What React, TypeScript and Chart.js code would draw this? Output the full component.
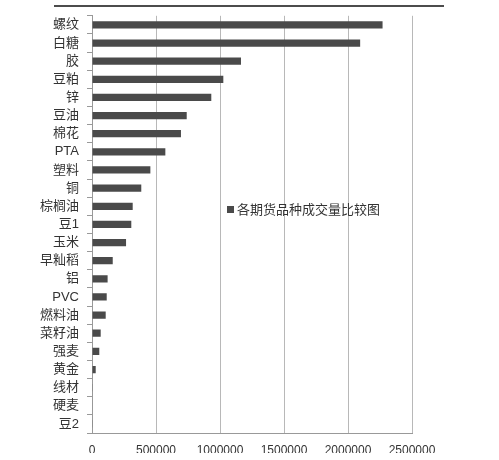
import React, { useEffect, useRef } from "react";
import { Chart, registerables } from "chart.js";

Chart.register(...registerables);

const categories = [
  "螺纹", "白糖", "胶", "豆粕", "锌", "豆油", "棉花", "PTA", "塑料", "铜", "棕榈油", "豆1",
  "玉米", "早籼稻", "铝", "PVC", "燃料油", "菜籽油", "强麦", "黄金", "线材", "硬麦", "豆2",
];

const volumes = [
  2270000, 2095000, 1164000, 1026000, 932000, 740000, 695000, 573000, 456000, 385000, 318000, 307000,
  266000, 162000, 122000, 115000, 107000, 68000, 57000, 29000, 5000, 4000, 3000,
];

const seriesLabel = "各期货品种成交量比较图";
const xTicks = [0, 500000, 1000000, 1500000, 2000000, 2500000];

const FONT = "'Liberation Sans', 'Noto Sans CJK SC', sans-serif";

// legend sits inside the plot area, plus the stray rule at the top
const overlay = {
  id: "overlay",
  afterDraw(chart: any) {
    const { ctx, chartArea } = chart;
    ctx.save();
    ctx.strokeStyle = "#111";
    ctx.lineWidth = 1.5;
    ctx.beginPath();
    ctx.moveTo(54, 6);
    ctx.lineTo(444, 6);
    ctx.stroke();

    const lx = chartArea.left + 135;
    const ly = 210;
    ctx.fillStyle = "#4a4a4a";
    ctx.fillRect(lx, ly - 4, 7, 7);
    ctx.fillStyle = "#333";
    ctx.font = `13px ${FONT}`;
    ctx.textBaseline = "middle";
    ctx.fillText(chart.data.datasets[0].label, lx + 10, ly);
    ctx.restore();
  },
};

const App: React.FC = () => {
  const chartRef = useRef<HTMLCanvasElement | null>(null);
  const chartInstance = useRef<Chart<"bar"> | null>(null);

  useEffect(() => {
    if (!chartRef.current) return;
    if (chartInstance.current) chartInstance.current.destroy();

    chartInstance.current = new Chart(chartRef.current, {
      type: "bar",
      data: {
        labels: categories,
        datasets: [
          {
            label: seriesLabel,
            data: volumes,
            backgroundColor: "#4a4a4a",
            barPercentage: 0.4,
            categoryPercentage: 1,
          },
        ],
      },
      options: {
        indexAxis: "y",
        responsive: false,
        animation: false,
        layout: { padding: { top: 8, right: 87, bottom: 7, left: 0 } },
        plugins: {
          legend: { display: false },
          tooltip: { enabled: false },
        },
        scales: {
          x: {
            min: 0,
            max: 2500000,
            afterBuildTicks: (s: any) => {
              s.ticks = xTicks.map((v) => ({ value: v }));
            },
            afterFit: (s: any) => {
              s.height = 20;
            },
            grid: { color: "#b8b8b8", tickLength: 0, lineWidth: 1 },
            border: { color: "#999" },
            ticks: {
              color: "#333",
              font: { family: FONT, size: 12 },
              padding: 10,
              maxRotation: 0,
              callback: (v: any) => String(v),
            },
          },
          y: {
            afterFit: (s: any) => {
              s.width = 92;
            },
            grid: {
              offset: true,
              drawOnChartArea: false,
              tickLength: 5,
              color: "#999",
            },
            border: { color: "#999" },
            ticks: {
              color: "#333",
              font: { family: FONT, size: 13 },
              padding: 8,
              autoSkip: false,
            },
          },
        },
      },
      plugins: [overlay],
    });

    return () => {
      if (chartInstance.current) {
        chartInstance.current.destroy();
        chartInstance.current = null;
      }
    };
  }, []);

  return (
    <div style={{ position: "absolute", left: 0, top: 0, width: 499, height: 460, background: "#fff" }}>
      <canvas ref={chartRef} width={499} height={460} style={{ width: 499, height: 460 }} />
    </div>
  );
};

export default App;
